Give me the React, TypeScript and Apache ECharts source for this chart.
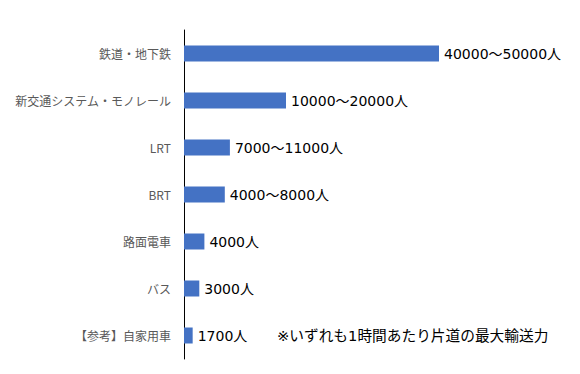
import React, { useEffect, useRef } from "react";
import * as echarts from "echarts";

const categories = [
  "鉄道・地下鉄",
  "新交通システム・モノレール",
  "LRT",
  "BRT",
  "路面電車",
  "バス",
  "【参考】自家用車",
];
const values = [50000, 20000, 9000, 8000, 4000, 3000, 1700];
const valueLabels = [
  "40000～50000人",
  "10000～20000人",
  "7000～11000人",
  "4000～8000人",
  "4000人",
  "3000人",
  "1700人",
];
const noteText = "※いずれも1時間あたり片道の最大輸送力";

const FONT = "'Noto Sans CJK JP', 'Noto Sans', sans-serif";
const VALUE_FONT = "'DejaVu Sans', 'Noto Sans CJK JP', sans-serif";

export default function App() {
  const ref = useRef<HTMLDivElement>(null);
  useEffect(() => {
    if (!ref.current) return;
    const chart = echarts.init(ref.current, undefined, { renderer: "svg" });
    chart.setOption({
      animation: false,
      backgroundColor: "#ffffff",
      grid: { left: 184, top: 30, width: 306, height: 329, containLabel: false },
      xAxis: {
        type: "value",
        min: 0,
        max: 60000,
        show: false,
      },
      yAxis: {
        type: "category",
        data: categories,
        inverse: true,
        axisLine: { show: true, lineStyle: { color: "#000000", width: 1 } },
        axisTick: { show: false },
        axisLabel: {
          margin: 13,
          color: "#595959",
          fontSize: 12,
          fontFamily: FONT,
        },
      },
      series: [
        {
          type: "bar",
          data: values,
          barWidth: 16,
          itemStyle: { color: "#4472C4" },
          label: {
            show: true,
            position: "right",
            distance: 5,
            color: "#000000",
            fontSize: 14,
            fontFamily: VALUE_FONT,
            formatter: (p: any) => valueLabels[p.dataIndex],
          },
        },
      ],
      graphic: [
        {
          type: "text",
          left: 277,
          top: 328,
          style: {
            text: noteText,
            fill: "#000000",
            fontSize: 14.7,
            fontFamily: VALUE_FONT,
          },
        },
      ],
    });
    return () => chart.dispose();
  }, []);
  return (
    <div
      ref={ref}
      style={{ position: "absolute", left: 0, top: 0, width: 580, height: 374 }}
    />
  );
}
